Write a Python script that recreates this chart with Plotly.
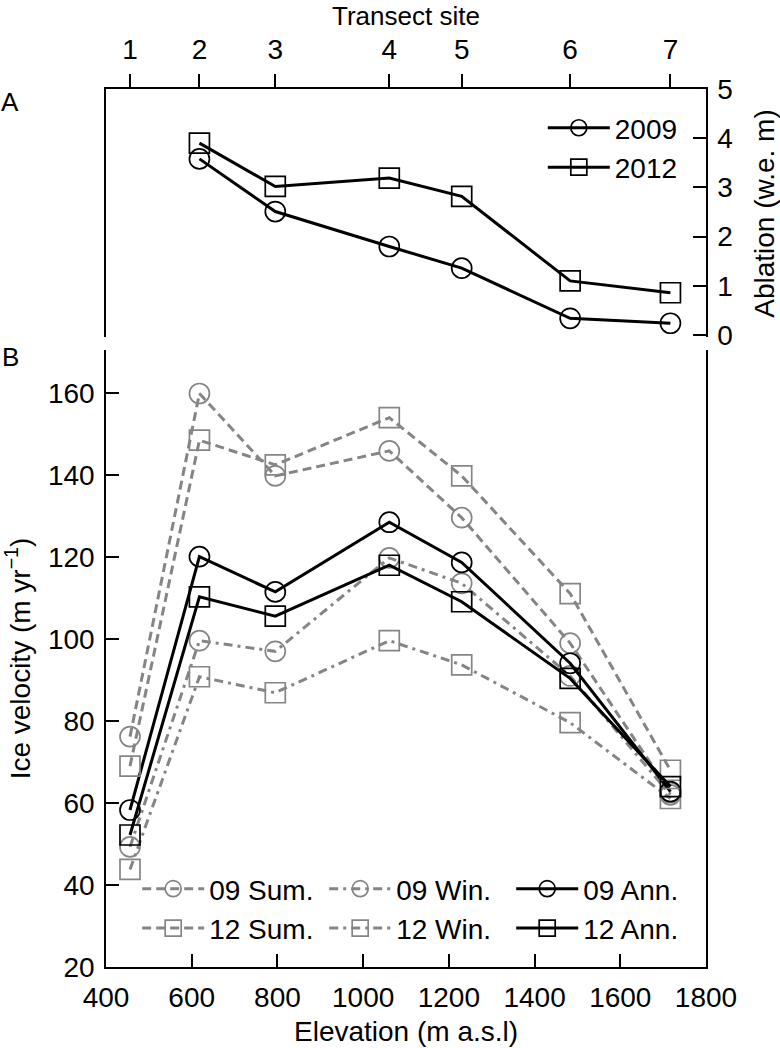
import plotly.graph_objects as go

# Transect site elevations (m a.s.l.)
elev = [456, 618, 795, 1061, 1230, 1483, 1717]
site_labels = ["1", "2", "3", "4", "5", "6", "7"]

# Panel A: ablation (w.e. m), sites 2-7
abl_elev = elev[1:]
abl_2009 = [3.58, 2.51, 1.80, 1.36, 0.34, 0.24]
abl_2012 = [3.90, 3.02, 3.19, 2.82, 1.10, 0.86]

# Panel B: ice velocity (m yr-1)
v09_sum = [76.2, 159.9, 139.8, 145.9, 129.6, 99.0, 62.5]
v09_win = [49.3, 99.6, 97.0, 119.8, 113.6, 91.0, 62.0]
v09_ann = [58.3, 120.1, 111.5, 128.5, 118.7, 94.1, 62.8]
v12_sum = [69.0, 148.5, 142.5, 154.0, 139.8, 111.1, 68.0]
v12_win = [43.8, 90.8, 86.9, 99.6, 93.7, 79.6, 61.1]
v12_ann = [52.2, 110.3, 105.6, 118.0, 109.1, 90.4, 64.0]

BLACK = "#000000"
GRAY = "#858585"
FONT = "Liberation Sans, Arial, sans-serif"
DASH = "9px,5px"
DASHDOT = "9px,5px,3px,5px"

fig = go.Figure()

def add(x, y, name, color, dash, symbol, xa, ya, legend):
    fig.add_trace(go.Scatter(
        x=x, y=y, name=name, mode="lines+markers",
        line=dict(color=color, width=3, dash=dash),
        marker=dict(symbol=symbol, size=20, color=color,
                    line=dict(color=color, width=1.7)),
        xaxis=xa, yaxis=ya, legend=legend,
    ))

# Panel A
add(abl_elev, abl_2009, "2009", BLACK, "solid", "circle-open", "x2", "y2", "legend")
add(abl_elev, abl_2012, "2012", BLACK, "solid", "square-open", "x2", "y2", "legend")

# Panel B
add(elev, v09_sum, "09 Sum.", GRAY, DASH, "circle-open", "x", "y", "legend2")
add(elev, v09_win, "09 Win.", GRAY, DASHDOT, "circle-open", "x", "y", "legend2")
add(elev, v09_ann, "09 Ann.", BLACK, "solid", "circle-open", "x", "y", "legend2")
add(elev, v12_sum, "12 Sum.", GRAY, DASH, "square-open", "x", "y", "legend2")
add(elev, v12_win, "12 Win.", GRAY, DASHDOT, "square-open", "x", "y", "legend2")
add(elev, v12_ann, "12 Ann.", BLACK, "solid", "square-open", "x", "y", "legend2")

axis_common = dict(showgrid=False, zeroline=False, showline=True, linecolor=BLACK,
                   linewidth=1.5, tickcolor=BLACK, tickwidth=1.5, ticklen=13,
                   automargin=False,
                   tickfont=dict(family=FONT, size=28, color=BLACK))

fig.update_layout(
    template="none",
    width=780, height=1048,
    margin=dict(l=106, r=74, t=89, b=81, pad=0),
    paper_bgcolor="white", plot_bgcolor="white",
    font=dict(family=FONT, size=28, color=BLACK),
    xaxis=dict(domain=[0, 1], range=[400, 1800], anchor="y",
               tickvals=list(range(400, 1801, 200)), ticks="inside",
               ticklabelstandoff=5,
               **axis_common),
    yaxis=dict(domain=[0, 0.7027], range=[20, 170.5], anchor="x",
               tickvals=list(range(20, 161, 20)), ticks="inside", mirror=True,
               ticklabelstandoff=4,
               **axis_common),
    xaxis2=dict(domain=[0, 1], range=[400, 1800], anchor="y2", side="top",
                tickvals=elev, ticktext=site_labels, ticks="outside",
                ticklabelstandoff=4,
                **axis_common),
    yaxis2=dict(domain=[0.7175, 1], range=[-0.04, 5], anchor="x2", side="right",
                tickvals=[0, 1, 2, 3, 4, 5], ticks="inside", mirror=True,
                ticklabelstandoff=4,
                **axis_common),
    legend=dict(x=0.728, y=0.984, xanchor="left", yanchor="top",
                bgcolor="rgba(0,0,0,0)", borderwidth=0,
                font=dict(family=FONT, size=28, color=BLACK),
                tracegroupgap=0, itemsizing="trace", itemwidth=62),
    legend2=dict(x=0.052, y=0.016, xanchor="left", yanchor="bottom",
                 orientation="h", entrywidth=110,
                 bgcolor="rgba(0,0,0,0)", borderwidth=0,
                 font=dict(family=FONT, size=28, color=BLACK),
                 tracegroupgap=0, itemsizing="trace", itemwidth=62),
    annotations=[
        dict(text="A", xref="paper", yref="paper", x=-0.16, y=0.985,
             xanchor="center", yanchor="middle", showarrow=False,
             font=dict(family=FONT, size=26, color=BLACK)),
        dict(text="B", xref="paper", yref="paper", x=-0.16, y=0.695,
             xanchor="center", yanchor="middle", showarrow=False,
             font=dict(family=FONT, size=26, color=BLACK)),
        dict(text="Transect site", xref="paper", yref="paper",
             x=0.5, y=1.0831, xanchor="center", yanchor="middle",
             showarrow=False,
             font=dict(family=FONT, size=26, color=BLACK)),
        dict(text="Ablation (w.e. m)", xref="paper", yref="paper",
             x=1.098, y=0.8588, xanchor="center", yanchor="middle",
             textangle=-90, showarrow=False,
             font=dict(family=FONT, size=28, color=BLACK)),
        dict(text="Ice velocity (m yr<sup>−1</sup>)", xref="paper", yref="paper",
             x=-0.147, y=0.3513, xanchor="center", yanchor="middle",
             textangle=-90, showarrow=False,
             font=dict(family=FONT, size=28, color=BLACK)),
        dict(text="Elevation (m a.s.l)", xref="paper", yref="paper",
             x=0.5, y=-0.0729, xanchor="center", yanchor="middle",
             showarrow=False,
             font=dict(family=FONT, size=28, color=BLACK)),
    ],
    showlegend=True,
)

fig.write_html("out.html",
               config={"displayModeBar": False},
               post_script="document.body.style.margin='0px';"
                           "document.body.style.padding='0px';")
